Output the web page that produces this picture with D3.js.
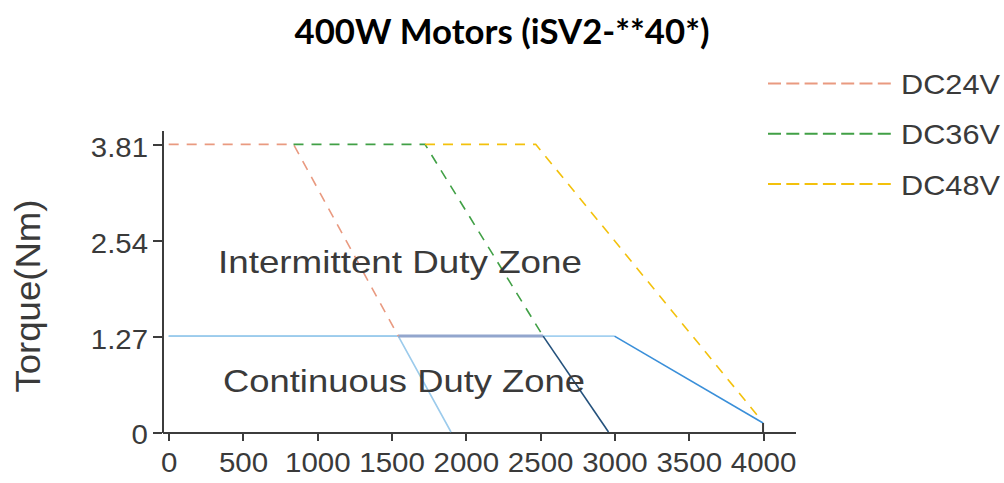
<!DOCTYPE html>
<html>
<head>
<meta charset="utf-8">
<script src="https://cdn.jsdelivr.net/npm/d3@7"></script>
<style>
html, body { margin: 0; padding: 0; background: #fff; }
#chartView { width: 1004px; height: 483px; position: relative; }
svg text { font-family: "Liberation Sans", Arial, sans-serif; fill: #3a3a3a; }
.axis path, .axis line { stroke: #3c3c3c; stroke-width: 2px; shape-rendering: crispEdges; }
.axis text { font-size: 27px; fill: #3a3a3a; }
.title { font-family: Lato, "Open Sans", sans-serif !important; font-weight: 700; fill: #000 !important; }
</style>
</head>
<body>
<div data-id="chartView" id="chartView"></div>
<script>
// chart values
var titleText = '400W Motors (iSV2-**40*)';
var yLabelText = 'Torque(Nm)';
var zoneNames = ['Intermittent Duty Zone', 'Continuous Duty Zone'];
var legendNames = ['DC24V', 'DC36V', 'DC48V'];
var xTicks = [0, 500, 1000, 1500, 2000, 2500, 3000, 3500, 4000];
var yTicks = [0, 1.27, 2.54, 3.81];
var yTickLabels = ['0', '1.27', '2.54', '3.81'];

// peak (intermittent) torque limits, [speed rpm, torque Nm]
var peak24 = [[0, 3.81], [840, 3.81], [1545, 1.27]];
var peak36 = [[840, 3.81], [1725, 3.81], [2520, 1.27]];
var peak48 = [[1725, 3.81], [2470, 3.81], [3970, 0.2]];
// continuous limits
var cont24 = [[0, 1.27], [1545, 1.27], [1900, 0]];
var cont36 = [[1545, 1.27], [2520, 1.27], [2960, 0]];
var cont48 = [[0, 1.27], [3000, 1.27], [4000, 0.12], [4000, 0]];

var CHART = CHART || {};
CHART.torqueWidget = function (options) {

    var defaultVal = {
        margin: { top: 130, right: 209, bottom: 51, left: 162 },
        xDomain: [-45, 4215],
        yDomain: [0, 4],
        peakColors: ['#e99a80', '#41a046', '#f3c10c'],
        dash: '10,8'
    };

    // rough width of a tick label, the original glyphs are a bit wide
    function labelWidth(s) {
        return s.split('').reduce(function (a, ch) { return a + (ch === '.' ? 8 : 16.4); }, 0);
    }

    function TorqueVis(options) {
        this.element = options.element;
        this.settings = Object.assign({}, defaultVal, options);
    }

    TorqueVis.prototype = {
        init: function () {
            this._initChart();
            this._drawAxes();
            this._drawLines();
            this._drawTexts();
            this._drawLegend();
        },
        _initChart: function () {
            var self = this, m = self.settings.margin;
            var w = 1004, h = 483;
            self.svg = d3.select(self.element).append('svg')
                .attr('width', w).attr('height', h);
            self.xScale = d3.scaleLinear().domain(self.settings.xDomain).range([m.left, w - m.right]);
            self.yScale = d3.scaleLinear().domain(self.settings.yDomain).range([h - m.bottom, m.top]);
            self.line = d3.line()
                .x(function (d) { return self.xScale(d[0]); })
                .y(function (d) { return self.yScale(d[1]); });
        },
        _drawAxes: function () {
            var self = this;
            var xAxis = d3.axisBottom(self.xScale).tickValues(xTicks)
                .tickSizeInner(9).tickSizeOuter(0).tickPadding(12)
                .tickFormat(d3.format('d'));
            var gx = self.svg.append('g').attr('class', 'axis')
                .attr('transform', 'translate(0,' + self.yScale(0) + ')')
                .call(xAxis);
            gx.selectAll('text')
                .attr('textLength', function (d) { return labelWidth(String(d)); })
                .attr('lengthAdjust', 'spacingAndGlyphs');

            var yAxis = d3.axisLeft(self.yScale).tickValues(yTicks)
                .tickSizeInner(9).tickSizeOuter(0).tickPadding(5)
                .tickFormat(function (d, i) { return yTickLabels[i]; });
            var gy = self.svg.append('g').attr('class', 'axis')
                .attr('transform', 'translate(' + self.xScale(self.settings.xDomain[0]) + ',0)')
                .call(yAxis);
            gy.selectAll('text').attr('dy', '0.44em')
                .attr('textLength', function (d, i) { return labelWidth(yTickLabels[i]); })
                .attr('lengthAdjust', 'spacingAndGlyphs');
        },
        _path: function (pts, color, width, dash) {
            this.svg.append('path').datum(pts)
                .attr('d', this.line)
                .attr('fill', 'none')
                .attr('stroke', color)
                .attr('stroke-width', width)
                .attr('stroke-dasharray', dash || null);
        },
        _drawLines: function () {
            var self = this, c = self.settings.peakColors, dash = self.settings.dash;
            // continuous duty zone
            self._path(cont48.slice(0, 2), '#a3d0f0', 1.6);
            self._path(cont48.slice(1, 3), '#3a8fd9', 1.6);
            self._path(cont48.slice(2, 4), '#3c3c3c', 2);
            self._path(cont24, '#9ccbec', 1.6);
            self._path(cont36.slice(0, 2), '#92a6cd', 3);
            self._path(cont36.slice(1, 3), '#24517c', 1.6);
            // intermittent limits
            self._path(peak24, c[0], 1.6, dash);
            self._path(peak36, c[1], 1.6, dash);
            self._path(peak48, c[2], 1.6, dash);
        },
        _drawTexts: function () {
            var self = this;
            self.svg.append('text').attr('class', 'title')
                .attr('x', 502).attr('y', 44)
                .attr('text-anchor', 'middle')
                .attr('textLength', 415).attr('lengthAdjust', 'spacingAndGlyphs')
                .style('font-size', '35px')
                .text(titleText);

            self.svg.append('text')
                .attr('transform', 'translate(40,296) rotate(-90)')
                .attr('text-anchor', 'middle')
                .attr('textLength', 193).attr('lengthAdjust', 'spacingAndGlyphs')
                .style('font-size', '35px')
                .text(yLabelText);

            self.svg.selectAll('.zone').data(zoneNames).enter().append('text')
                .attr('class', 'zone')
                .attr('x', function (d, i) { return i ? 223 : 218; })
                .attr('y', function (d, i) { return i ? 392 : 273; })
                .attr('textLength', function (d, i) { return i ? 362 : 364; })
                .attr('lengthAdjust', 'spacingAndGlyphs')
                .style('font-size', '32px')
                .text(function (d) { return d; });
        },
        _drawLegend: function () {
            var self = this, c = self.settings.peakColors;
            var item = self.svg.selectAll('.legendItem').data(legendNames).enter().append('g')
                .attr('class', 'legendItem')
                .attr('transform', function (d, i) { return 'translate(0,' + (83.5 + i * 50.3) + ')'; });
            item.append('line')
                .attr('x1', 768).attr('x2', 895)
                .attr('stroke', function (d, i) { return c[i]; })
                .attr('stroke-width', 2)
                .attr('stroke-dasharray', '13,5.3');
            item.append('text')
                .attr('x', 901).attr('y', 10.5)
                .attr('textLength', 99).attr('lengthAdjust', 'spacingAndGlyphs')
                .style('font-size', '28px')
                .text(function (d) { return d; });
        }
    };

    var vis = new TorqueVis(options);
    vis.init();
    return { options: vis.settings };
};

CHART.torqueWidget({ element: document.getElementById('chartView') });
</script>
</body>
</html>
